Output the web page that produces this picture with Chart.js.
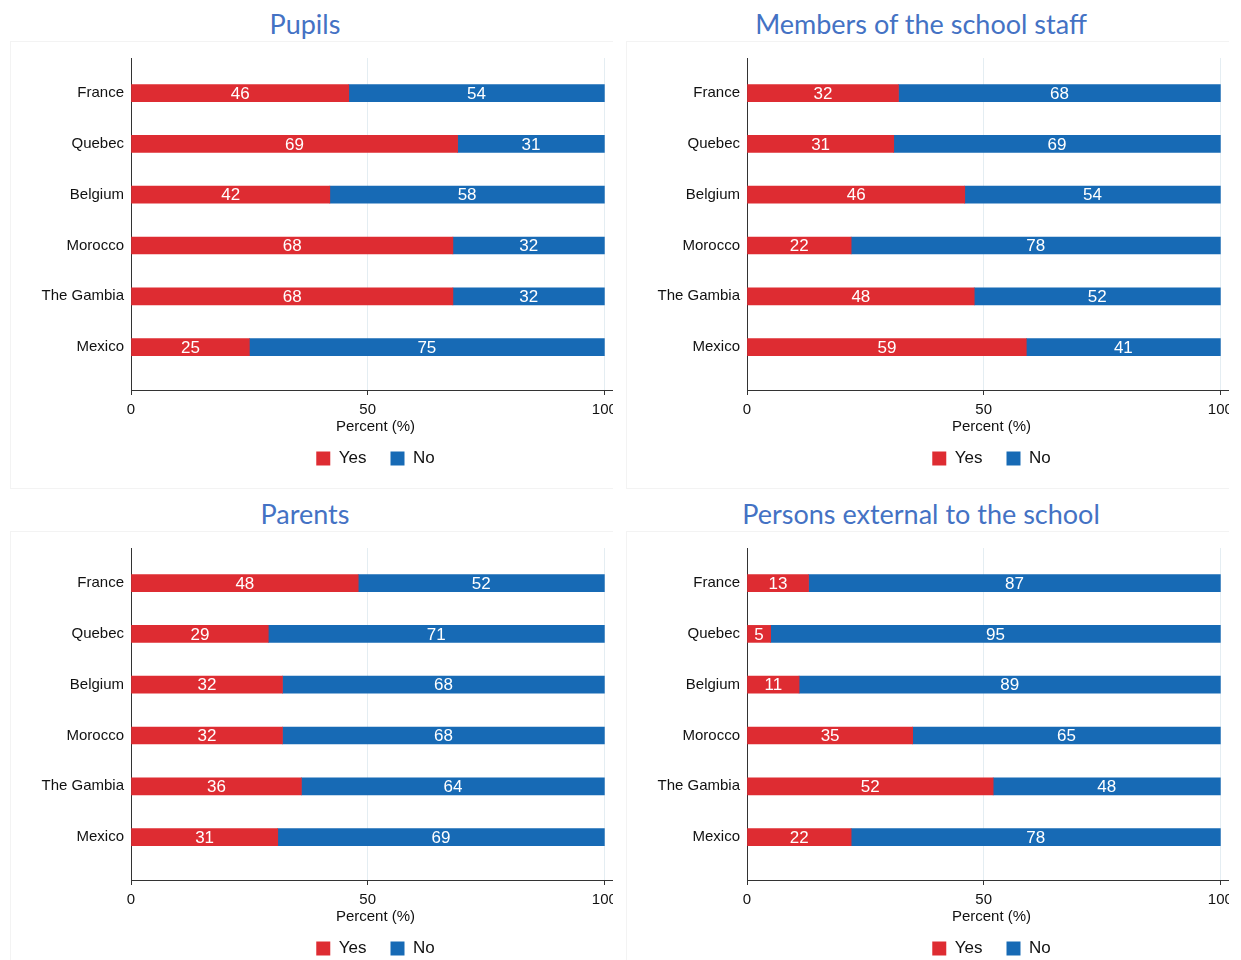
<!DOCTYPE html>
<html>
<head>
<meta charset="utf-8">
<script src="https://cdn.jsdelivr.net/npm/chart.js@4.4.1/dist/chart.umd.min.js"></script>
<style>
  body { margin: 0; background: #fff; }
  #wrap { position: relative; width: 1241px; height: 960px; }
  .panel { position: absolute; width: 613px; height: 490px; overflow: hidden; }
  .ttl { position: absolute; left: 0; top: 7px; width: 610px; text-align: center;
         font-family: Lato, "Open Sans", sans-serif; font-size: 27px; color: #4472c4; }
  .box { position: absolute; left: 10px; top: 41px; width: 640px; height: 446px; border: 1px solid #f3f3f3; }
  .panel canvas { position: absolute; left: 0; top: 42px; }
</style>
</head>
<body>
<div id="wrap"></div>
<script>
// data
const countries = ['France', 'Quebec', 'Belgium', 'Morocco', 'The Gambia', 'Mexico'];
const panelTitles = ['Pupils', 'Members of the school staff', 'Parents', 'Persons external to the school'];
const pupilsYes = [46, 69, 42, 68, 68, 25];
const pupilsNo  = [54, 31, 58, 32, 32, 75];
const staffYes  = [32, 31, 46, 22, 48, 59];
const staffNo   = [68, 69, 54, 78, 52, 41];
const parentsYes = [48, 29, 32, 32, 36, 31];
const parentsNo  = [52, 71, 68, 68, 64, 69];
const externalYes = [13, 5, 11, 35, 52, 22];
const externalNo  = [87, 95, 89, 65, 48, 78];
const xTicks = [0, 50, 100];

const RED = '#de2c32';
const BLUE = '#176ab5';
const FONT = '"Liberation Sans", Arial, sans-serif';

const panels = [
  { title: panelTitles[0], yes: pupilsYes, no: pupilsNo, left: 0, top: 0 },
  { title: panelTitles[1], yes: staffYes, no: staffNo, left: 616, top: 0 },
  { title: panelTitles[2], yes: parentsYes, no: parentsNo, left: 0, top: 490 },
  { title: panelTitles[3], yes: externalYes, no: externalNo, left: 616, top: 490 }
];

// white numbers in the middle of each segment
const barLabels = {
  id: 'barLabels',
  afterDatasetsDraw(chart) {
    const ctx = chart.ctx;
    ctx.save();
    ctx.fillStyle = '#fff';
    ctx.font = '17px ' + FONT;
    ctx.textAlign = 'center';
    ctx.textBaseline = 'middle';
    chart.data.datasets.forEach((ds, i) => {
      chart.getDatasetMeta(i).data.forEach((bar, j) => {
        const p = bar.getProps(['x', 'y', 'base'], true);
        ctx.fillText(ds.data[j].x, (p.x + p.base) / 2, p.y + 1);
      });
    });
    ctx.restore();
  }
};

const wrap = document.getElementById('wrap');

panels.forEach(p => {
  const div = document.createElement('div');
  div.className = 'panel';
  div.style.left = p.left + 'px';
  div.style.top = p.top + 'px';
  div.innerHTML = '<div class="ttl">' + p.title + '</div><div class="box"></div>';
  const canvas = document.createElement('canvas');
  canvas.width = 660;
  canvas.height = 448;
  canvas.style.width = '660px';
  canvas.style.height = '448px';
  div.appendChild(canvas);
  wrap.appendChild(div);

  new Chart(canvas, {
    type: 'bar',
    data: {
      datasets: [
        { label: 'Yes', data: p.yes.map((v, i) => ({ x: v, y: i })), backgroundColor: RED },
        { label: 'No', data: p.no.map((v, i) => ({ x: v, y: i })), backgroundColor: BLUE }
      ]
    },
    options: {
      indexAxis: 'y',
      responsive: false,
      animation: false,
      layout: { padding: { top: 14, bottom: 13, left: 0, right: 40 } },
      datasets: { bar: { barThickness: 17 } },
      scales: {
        x: {
          type: 'linear',
          stacked: true,
          min: 0,
          max: 103.3,
          afterBuildTicks: s => { s.ticks = xTicks.map(v => ({ value: v })); },
          afterFit: s => { s.height = 36; },
          grid: {
            color: c => (c.tick && c.tick.value === 0) ? 'rgba(0,0,0,0)' : '#e4edf2',
            tickColor: '#333',
            tickLength: 5
          },
          border: { color: '#333' },
          ticks: { color: '#111', font: { family: FONT, size: 15 }, padding: 6 },
          title: { display: true, text: 'Percent (%)', color: '#111', font: { family: FONT, size: 15 }, padding: { top: 0, bottom: -10 } }
        },
        y: {
          type: 'linear',
          stacked: true,
          reverse: true,
          offset: false,
          min: -0.69,
          max: 5.843,
          afterBuildTicks: s => { s.ticks = countries.map((c, i) => ({ value: i })); },
          afterFit: s => { s.width = 131; },
          grid: { display: false, drawTicks: false, offset: false },
          border: { display: true, color: '#333' },
          ticks: { color: '#111', font: { family: FONT, size: 15 }, padding: 7, callback: v => countries[v] }
        }
      },
      plugins: {
        legend: {
          position: 'bottom',
          fullSize: false,
          labels: {
            boxWidth: 14, boxHeight: 14, padding: 24,
            color: '#111', font: { family: FONT, size: 17 }
          }
        },
        tooltip: { enabled: false }
      }
    },
    plugins: [barLabels]
  });
});
</script>
</body>
</html>
